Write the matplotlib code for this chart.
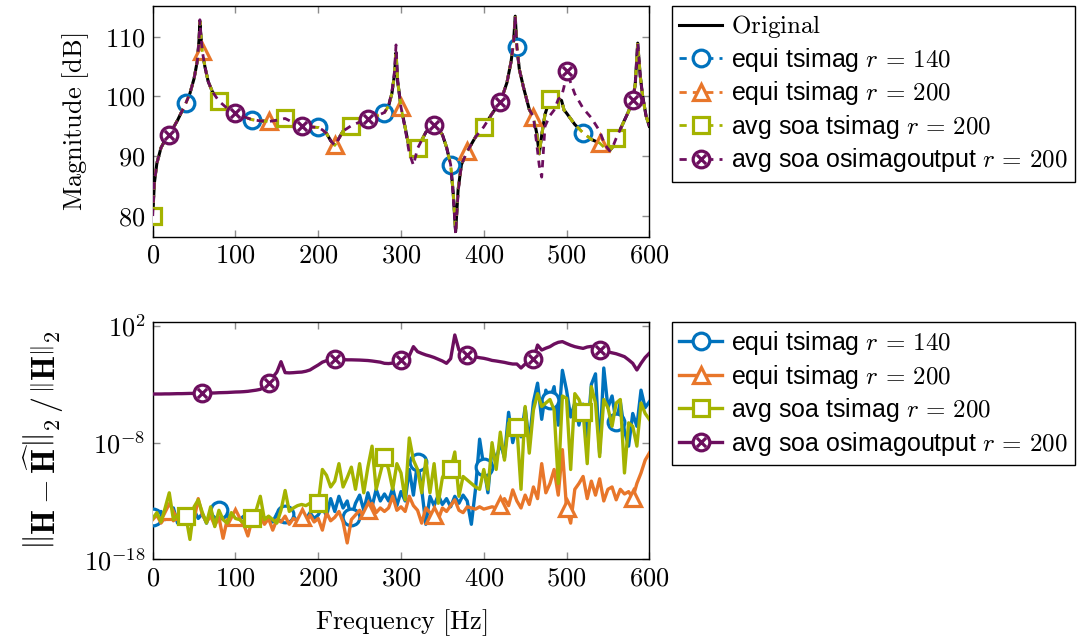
import numpy as np
import matplotlib
matplotlib.use("Agg")
import matplotlib.pyplot as plt
from matplotlib.path import Path
from matplotlib.ticker import FixedLocator, FuncFormatter, NullLocator

plt.rcParams['mathtext.fontset'] = 'cm'
plt.rcParams['font.family'] = ['Liberation Sans', 'DejaVu Sans']

# ---- donnees ----
# graphe du haut : amplitude (dB), grille de frequences non uniforme
freq_top = [0, 2, 5, 10, 15, 20, 30, 40, 45, 50, 54, 56, 57, 58, 60, 63, 67, 72, 80, 90,
            100, 110, 120, 130, 140, 150, 160, 170, 180, 190, 200, 205, 210, 215, 220, 225,
            230, 240, 250, 260, 270, 280, 285, 289, 292, 294, 296, 300, 305, 310, 315, 320,
            330, 340, 350, 355, 360, 363, 366, 369, 373, 380, 390, 400, 410, 420, 428, 433,
            436, 438, 440, 443, 448, 455, 460, 464, 467, 470, 474, 480, 485, 490, 494, 497,
            500, 510, 520, 530, 540, 546, 552, 556, 560, 570, 575, 580, 583, 586, 589, 592,
            596, 600]
mag_original = [80.0, 85.5, 88.8, 91.4, 92.7, 93.55, 96.0, 98.85, 100.5, 103.0, 106.0, 109.5,
                112.5, 110.5, 107.5, 105.0, 102.5, 100.8, 99.2, 98.0, 97.3, 96.6, 96.1, 95.9,
                95.8, 96.0, 96.3, 95.6, 95.1, 94.9, 94.8, 94.4, 93.8, 92.6, 91.8, 93.0, 94.2,
                95.1, 95.7, 96.2, 96.7, 97.3, 98.4, 100.5, 103.5, 107.3, 102.5, 98.2, 94.8,
                91.3, 89.9, 91.3, 94.0, 95.2, 93.6, 91.5, 88.6, 84.0, 77.4, 84.4, 88.6, 90.8,
                93.2, 94.9, 97.1, 99.0, 102.3, 105.8, 109.0, 113.4, 108.3, 104.5, 101.5, 97.8,
                96.6, 93.8, 90.4, 93.5, 97.0, 99.6, 99.4, 99.6, 99.3, 97.7, 97.2, 95.3, 93.9,
                92.8, 92.2, 91.4, 90.9, 91.6, 93.0, 96.0, 97.5, 99.4, 102.0, 108.9, 103.5,
                100.0, 96.8, 95.0]
# les approximations tsimag se superposent a l'original
mag_equi_140 = list(mag_original)
mag_equi_200 = list(mag_original)
mag_soa_ts = list(mag_original)
mag_soa_out = [80.0, 85.5, 88.8, 91.4, 92.7, 93.55, 96.0, 98.85, 100.5, 103.0, 106.0, 109.5,
               112.8, 110.5, 107.5, 105.0, 102.5, 100.8, 99.2, 98.0, 97.3, 96.6, 96.1, 95.9,
               95.8, 96.0, 96.3, 95.6, 95.1, 94.9, 94.8, 94.4, 93.8, 92.6, 91.8, 93.0, 94.2,
               95.1, 95.7, 96.2, 96.7, 97.3, 98.4, 100.8, 104.0, 108.6, 102.5, 98.2, 94.6,
               90.5, 88.5, 91.3, 94.0, 95.2, 93.6, 91.5, 88.6, 83.5, 77.0, 84.0, 88.6, 90.8,
               93.2, 94.9, 97.1, 99.0, 102.3, 105.8, 109.0, 113.4, 108.3, 104.5, 101.5, 97.8,
               96.6, 92.0, 88.5, 86.5, 95.0, 96.8, 97.7, 99.5, 100.0, 101.6, 104.2, 100.4,
               98.0, 96.4, 94.2, 92.0, 90.9, 91.6, 93.0, 96.0, 97.5, 99.4, 102.0, 108.9,
               103.5, 100.0, 96.8, 95.0]

# graphe du bas : erreur relative (log10), pas de 5 Hz de 0 a 600 Hz
freq_err = list(range(0, 601, 5))
err_equi_140 = [-14.34, -14.8, -13.9, -14.6, -14.2, -13.6, -14.9, -14.3, -14.0, -14.7, -13.8,
                -14.5, -14.1, -14.9, -13.9, -14.4, -13.77, -14.5, -14.2, -14.8, -14.0, -14.6,
                -14.3, -14.9, -14.2, -14.7, -14.0, -14.5, -14.4, -14.8, -14.1, -14.6, -14.1,
                -14.5, -14.3, -14.8, -14.2, -14.6, -14.0, -14.5, -14.2, -13.5, -14.3, -12.8,
                -13.9, -12.6, -13.6, -13.0, -14.4, -13.2, -12.5, -13.8, -12.3, -13.5, -12.0,
                -13.0, -12.4, -13.0, -11.9, -13.4, -12.2, -13.0, -10.3, -12.5, -9.63, -12.0,
                -15.0, -12.6, -13.4, -12.5, -13.3, -12.8, -13.5, -12.6, -13.2, -12.5, -13.0,
                -15.0, -12.0, -7.7, -10.06, -12.3, -8.5, -9.5, -8.0, -9.3, -5.4, -8.0, -6.5,
                -7.5, -5.0, -8.0, -4.5, -2.9, -6.0, -3.5, -4.34, -3.2, -6.5, -1.8, -3.5, -5.8,
                -4.6, -6.5, -4.7, -7.5, -3.0, -2.1, -8.9, -1.6, -5.0, -4.0, -6.26, -4.5, -7.0,
                -8.3, -5.5, -6.6, -3.5, -5.0, -4.5]
err_equi_200 = [-14.6, -14.2, -14.9, -14.4, -13.9, -14.7, -14.3, -15.0, -14.5, -14.0, -14.6,
                -12.8, -14.2, -14.8, -14.3, -15.1, -14.4, -16.2, -14.6, -14.9, -14.34, -14.7,
                -15.0, -16.0, -14.6, -14.9, -14.3, -15.0, -14.5, -15.5, -14.6, -14.8, -14.3,
                -15.0, -14.5, -14.7, -14.4, -14.9, -14.2, -14.8, -14.5, -15.5, -14.0, -14.7,
                -14.4, -13.9, -14.8, -16.6, -14.6, -14.2, -13.8, -14.3, -13.77, -13.2, -14.0,
                -13.6, -13.9, -13.6, -12.6, -13.8, -13.5, -13.9, -12.6, -13.4, -13.8, -14.9,
                -13.6, -14.0, -14.2, -14.6, -13.6, -13.9, -13.4, -12.9, -13.8, -14.0, -13.5,
                -13.6, -13.7, -13.5, -13.7, -13.6, -13.5, -13.6, -13.34, -12.8, -13.4, -12.05,
                -13.0, -13.6, -12.5, -13.3, -11.8, -12.8, -9.8, -12.3, -11.5, -10.3, -12.5,
                -8.6, -13.63, -14.9, -12.0, -11.5, -10.9, -12.8, -11.3, -12.5, -11.1, -13.0,
                -12.0, -11.8, -12.9, -12.0, -12.4, -12.2, -12.77, -11.5, -10.6, -9.5, -8.9]
err_soa_ts = [-14.5, -14.0, -14.8, -13.6, -12.3, -14.6, -14.2, -14.0, -14.29, -16.3, -13.5,
              -12.9, -14.0, -14.9, -13.5, -15.2, -13.8, -14.6, -14.9, -14.0, -14.5, -14.6,
              -14.9, -14.7, -14.5, -13.8, -12.6, -14.6, -14.3, -14.6, -14.9, -13.8, -12.1,
              -13.9, -13.6, -13.4, -13.3, -13.4, -13.2, -13.4, -13.2, -10.3, -10.8, -11.8,
              -11.3, -9.8, -11.8, -11.0, -10.1, -12.0, -9.8, -12.3, -10.1, -8.3, -12.0, -10.6,
              -9.2, -10.3, -12.0, -9.8, -10.6, -12.9, -7.6, -9.5, -10.3, -12.3, -9.5, -12.3,
              -9.8, -13.2, -11.0, -10.3, -10.3, -8.8, -12.6, -10.9, -11.2, -11.5, -11.8, -12.0,
              -10.3, -12.0, -8.0, -10.3, -7.1, -9.5, -6.3, -6.6, -6.63, -12.0, -4.9, -8.9,
              -5.2, -3.8, -4.9, -4.6, -4.3, -5.2, -11.5, -4.0, -4.2, -10.3, -3.8, -4.3, -5.34,
              -9.8, -3.2, -4.6, -9.2, -4.3, -5.0, -6.6, -4.6, -4.3, -10.6, -6.3, -6.6, -8.3,
              -4.6, -5.5, -6.0]
err_soa_out = [-3.83, -3.83, -3.83, -3.82, -3.82, -3.81, -3.8, -3.8, -3.79, -3.78, -3.78,
               -3.77, -3.77, -3.76, -3.75, -3.74, -3.72, -3.71, -3.7, -3.68, -3.66, -3.65,
               -3.63, -3.6, -3.55, -3.5, -3.43, -3.2, -2.86, -2.4, -1.95, -1.06, -2.0, -2.02,
               -2.0, -1.97, -1.95, -1.88, -1.77, -1.55, -1.34, -1.1, -0.97, -0.9, -0.86, -0.87,
               -0.88, -0.9, -0.9, -0.91, -0.92, -0.94, -0.96, -1.0, -1.05, -1.1, -1.2, -1.22,
               -1.18, -1.05, -0.91, -0.75, -0.55, 0.23, -0.2, -0.35, -0.48, -0.58, -0.7, -0.85,
               -1.0, -1.2, -0.8, 1.23, -0.06, -0.3, -0.49, -0.58, -0.65, -0.72, -0.77, -0.85,
               -0.95, -1.0, -1.06, -1.12, -1.2, -1.26, -1.26, -1.6, -1.26, -1.0, -0.86, 0.37,
               -0.06, 0.1, 0.23, 0.45, 0.6, 0.66, 0.5, 0.35, 0.23, 0.15, 0.08, 0.2, 0.25, 0.1,
               -0.06, -0.15, -0.22, -0.3, -0.38, -0.5, -0.63, -0.9, -1.2, -1.77, -1.2, -0.7,
               -0.34]

labels = [r"equi tsimag $r\,=\,140$", r"equi tsimag $r\,=\,200$",
          r"avg soa tsimag $r\,=\,200$", r"avg soa osimagoutput $r\,=\,200$"]
couleurs = ["#0072BD", "#E8762A", "#A4B300", "#6C0E5E"]

# marqueur "cercle barre" (otimes)
cercle = Path.unit_circle()
croix = Path([[-0.55, -0.55], [0.55, 0.55], [-0.55, 0.55], [0.55, -0.55]],
             [Path.MOVETO, Path.LINETO, Path.MOVETO, Path.LINETO])
otimes = Path.make_compound_path(cercle, croix)
marqueurs = ["o", "^", "s", otimes]


def indices(freqs, positions):
    return [freqs.index(p) for p in positions]


def style_axe(ax):
    ax.tick_params(direction="in", color="#8c8c8c", length=5, width=1,
                   top=True, right=True, labelsize=19, pad=5)
    for s in ax.spines.values():
        s.set_linewidth(1.0)
    ax.xaxis.set_major_locator(FixedLocator([0, 100, 200, 300, 400, 500, 600]))
    ax.xaxis.set_major_formatter(FuncFormatter(lambda v, p: r"$%d$" % v))
    ax.set_xlim(0, 600)


def legende(ax):
    leg = ax.legend(loc="upper left", bbox_to_anchor=(1.0457, 1.0), borderaxespad=0,
                    fontsize=18, handlelength=1.7, handletextpad=0.35, labelspacing=0.22,
                    borderpad=0.3, fancybox=False, framealpha=1, edgecolor="black")
    leg.get_frame().set_linewidth(1.0)
    return leg


fig = plt.figure(figsize=(10.8, 6.37), dpi=100)
ax1 = fig.add_axes([0.1414, 0.628, 0.4598, 0.3626])
ax2 = fig.add_axes([0.1414, 0.122, 0.4598, 0.373])

# ---- graphe du haut ----
ax1.plot(freq_top, mag_original, color="black", lw=2.2, label=r"$\mathrm{Original}$", zorder=2)
series_top = [mag_equi_140, mag_equi_200, mag_soa_ts, mag_soa_out]
marques_top = [range(40, 600, 80), range(60, 600, 80), range(0, 600, 80), range(20, 600, 80)]
for k in range(4):
    ax1.plot(freq_top, series_top[k], color=couleurs[k], lw=2.0, dashes=(2.6, 2.2),
             marker=marqueurs[k], markersize=12, markeredgewidth=2.3, markerfacecolor="white",
             markevery=indices(freq_top, list(marques_top[k])), label=labels[k], zorder=3 + k)
style_axe(ax1)
ax1.set_ylim(76.5, 115.1)
ax1.yaxis.set_major_locator(FixedLocator([80, 90, 100, 110]))
ax1.yaxis.set_major_formatter(FuncFormatter(lambda v, p: r"$%d$" % v))
ax1.set_ylabel(r"$\mathrm{Magnitude\ [dB]}$", fontsize=19, labelpad=10)
legende(ax1)

# ---- graphe du bas ----
series_err = [err_equi_140, err_equi_200, err_soa_ts, err_soa_out]
marques_err = [range(0, 600, 80), range(20, 600, 80), range(40, 600, 80), range(60, 600, 80)]
for k in range(4):
    valeurs = 10.0 ** np.array(series_err[k])
    ax2.plot(freq_err, valeurs, color=couleurs[k], lw=2.4,
             marker=marqueurs[k], markersize=12, markeredgewidth=2.3, markerfacecolor="white",
             markevery=indices(freq_err, list(marques_err[k])), label=labels[k], zorder=3 + k)
style_axe(ax2)
ax2.set_yscale("log")
ax2.set_ylim(1e-18, 10 ** 2.37)
ax2.yaxis.set_major_locator(FixedLocator([1e-18, 1e-8, 1e2]))
ax2.yaxis.set_minor_locator(NullLocator())
ax2.yaxis.set_major_formatter(FuncFormatter(lambda v, p: r"$10^{%d}$" % round(np.log10(v))))
ax2.set_xlabel(r"$\mathrm{Frequency\ [Hz]}$", fontsize=19, labelpad=12)
ax2.set_ylabel(r"$\left\|\mathbf{H}-\widehat{\mathbf{H}}\right\|_2\,/\,\left\|\mathbf{H}\right\|_2$",
               fontsize=23, labelpad=14)
legende(ax2)

fig.savefig("out.png", dpi=100)
